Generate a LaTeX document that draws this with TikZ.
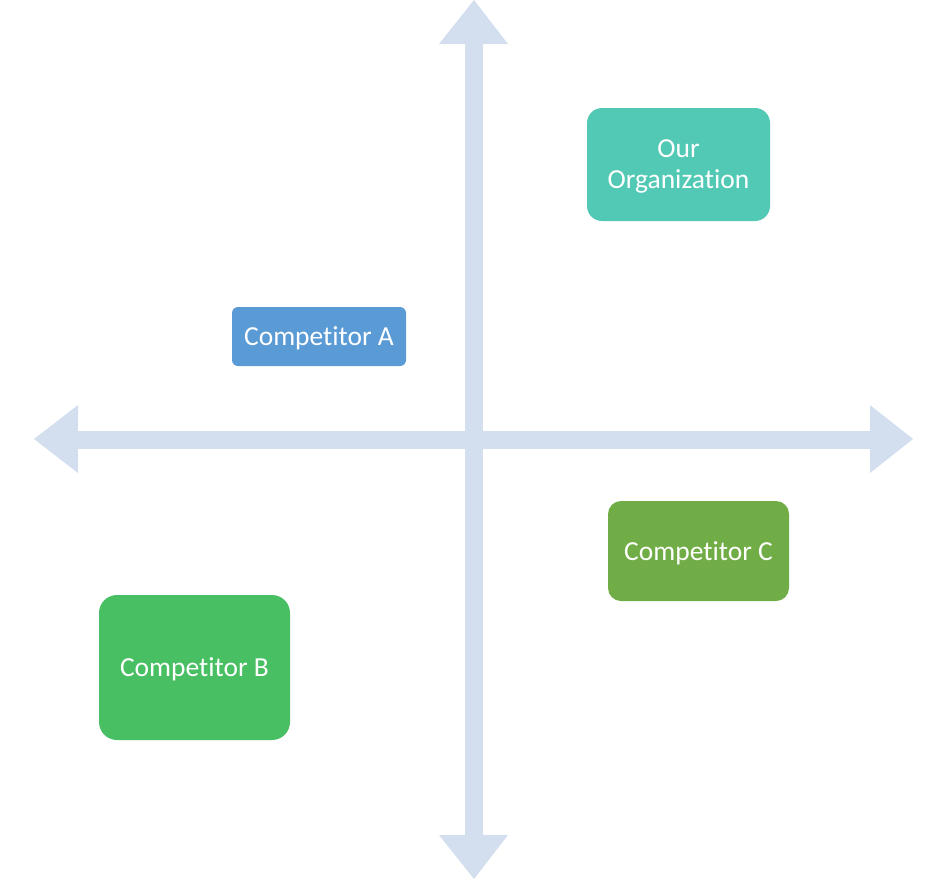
\documentclass[tikz,border=0pt]{standalone}
\usepackage{fontspec}
\setmainfont{Carlito}[Ligatures=NoCommon]
\definecolor{axiscol}{RGB}{211,222,239}
\definecolor{tealc}{RGB}{82,201,181}
\definecolor{bluec}{RGB}{91,155,213}
\definecolor{olivec}{RGB}{112,173,71}
\definecolor{greenc}{RGB}{73,191,100}
\begin{document}
\begin{tikzpicture}[x=1pt,y=-1pt,
  box/.style={rectangle,draw=none,text=white,align=center,inner sep=0pt,
    font=\fontsize{27.5}{31}\selectfont},
  axisfill/.style={fill=axiscol,draw=none}]
\useasboundingbox (0,0) rectangle (925,879);
% vertical axis
\fill[axisfill] (465,40) rectangle (483,840);
\fill[axisfill] (474,0) -- (508,44) -- (439,44) -- cycle;
\fill[axisfill] (474,879) -- (508,835) -- (439,835) -- cycle;
% horizontal axis
\fill[axisfill] (74,431) rectangle (874,449);
\fill[axisfill] (34,439) -- (78,405) -- (78,473) -- cycle;
\fill[axisfill] (913,439) -- (870,405) -- (870,473) -- cycle;
% boxes
\node[box,fill=tealc,rounded corners=15pt,minimum width=183pt,minimum height=113pt] (org) at (678.5,164.5) {};
\node[box] at ([yshift=-2pt]org.center) {Our\\Organization};
\node[box,fill=bluec,rounded corners=6pt,minimum width=174pt,minimum height=59pt] (ca) at (319,336.5) {};
\node[box] at ([yshift=-2pt]ca.center) {Competitor A};
\node[box,fill=olivec,rounded corners=13pt,minimum width=181pt,minimum height=100pt] (cc) at (698.5,551) {};
\node[box] at ([yshift=-2pt]cc.center) {Competitor C};
\node[box,fill=greenc,rounded corners=18pt,minimum width=191pt,minimum height=145pt] (cb) at (194.5,667.5) {};
\node[box] at ([yshift=-2pt]cb.center) {Competitor B};
\end{tikzpicture}
\end{document}
